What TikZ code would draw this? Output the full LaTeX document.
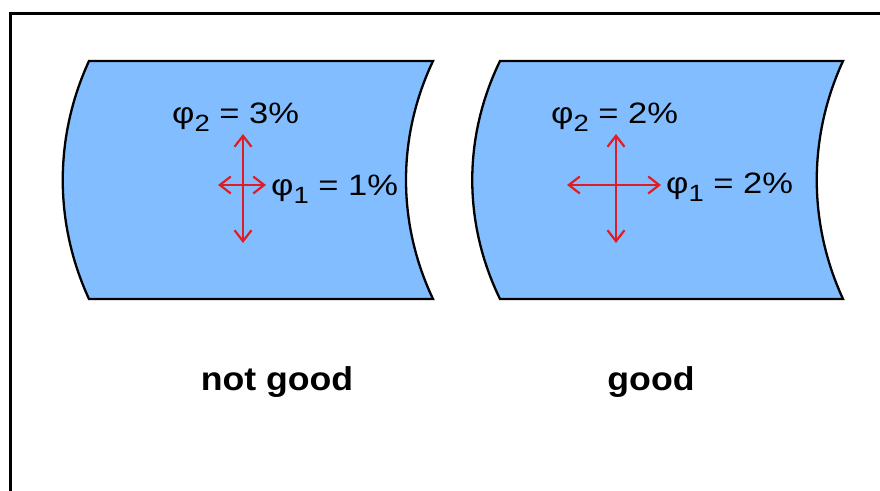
\documentclass[tikz,border=0pt]{standalone}
\usepackage{fontspec}
\setmainfont{Liberation Sans}
\usetikzlibrary{arrows.meta}
\definecolor{sheet}{RGB}{130,190,255}
\definecolor{arrred}{RGB}{222,30,36}
\tikzset{
  sheetshape/.style={fill=sheet,draw=black,line width=2.3pt,line join=miter},
  barbtip/.tip={Straight Barb[length=11pt,width=17pt,line width=2.2pt]},
  strain/.style={draw=arrred,line width=2.2pt,barbtip-barbtip},
  val/.style={inner sep=0pt,anchor=base west},
  caption/.style={inner sep=0pt,anchor=base}
}
\newcommand{\subtwo}[1]{\raisebox{-8pt}{\fontsize{23.5}{25}\selectfont #1}}
\newcommand{\valtext}[1]{\scalebox{1.17}[1]{\fontsize{29.5}{32}\selectfont #1}}
\newcommand{\captext}[1]{\scalebox{1.08}[1]{\fontsize{33}{36}\selectfont\bfseries #1}}
\begin{document}
\begin{tikzpicture}[x=1pt,y=-1pt]
\clip (0,0) rectangle (880,490);
\fill[white] (0,0) rectangle (880,490);
% frame (only top and left visible)
\draw[line width=3pt] (10.5,13) rectangle (900,520);
% left sheet
\draw[sheetshape] (89,61) -- (433,61) .. controls (397,137) and (397,223) .. (433,299) -- (89,299) .. controls (54,223) and (54,137) .. (89,61) -- cycle;
% right sheet
\draw[sheetshape] (500,61) -- (843,61) .. controls (808,137) and (808,223) .. (843,299) -- (500,299) .. controls (463,223) and (463,137) .. (500,61) -- cycle;
% left arrows
\coordinate (lvt) at (243,134);
\coordinate (lvb) at (243,243);
\coordinate (lhl) at (218,185);
\coordinate (lhr) at (266,185);
\draw[strain] (lvt) -- (lvb);
\draw[strain] (lhl) -- (lhr);
% right arrows
\coordinate (rvt) at (616,134);
\coordinate (rvb) at (616,243);
\coordinate (rhl) at (567,185);
\coordinate (rhr) at (661,185);
\draw[strain] (rvt) -- (rvb);
\draw[strain] (rhl) -- (rhr);
% values
\node[val] (l2) at (172,123) {\valtext{φ\subtwo{2} = 3\%}};
\node[val] (l1) at (271,195) {\valtext{φ\subtwo{1} = 1\%}};
\node[val] (r2) at (551,123) {\valtext{φ\subtwo{2} = 2\%}};
\node[val] (r1) at (666,193) {\valtext{φ\subtwo{1} = 2\%}};
% captions
\node[caption] (cl) at (277,390) {\captext{not good}};
\node[caption] (cr) at (651,390) {\captext{good}};
\end{tikzpicture}
\end{document}
